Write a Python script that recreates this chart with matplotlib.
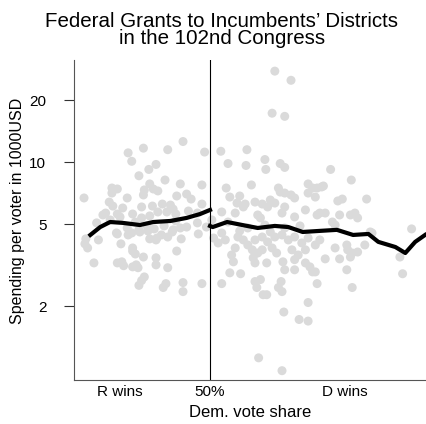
import matplotlib
matplotlib.use("Agg")
import matplotlib.pyplot as plt
import numpy as np

plt.rcParams['font.family'] = ['Liberation Sans', 'DejaVu Sans']

# Democratic vote share (%) and federal spending per voter (1000 USD)
r_share = [47.0, 42.6, 40.9, 45.3, 49.4, 41.3, 44.0, 43.2, 42.1, 45.0,
           46.7, 49.1, 43.3, 42.7, 43.7, 44.2, 39.1, 39.7, 39.1, 36.0,
           40.8, 42.6, 46.3, 47.4, 47.9, 38.8, 39.2, 40.3, 42.4, 43.6,
           44.7, 45.6, 45.9, 49.1, 38.4, 38.1, 39.7, 41.4, 43.3, 44.2,
           45.2, 46.2, 47.6, 48.6, 42.4, 41.7, 37.4, 47.4, 48.6, 49.6,
           39.7, 40.9, 41.3, 42.2, 43.1, 43.3, 44.0, 44.6, 45.3, 45.9,
           46.8, 48.7, 36.2, 36.4, 36.1, 37.6, 40.1, 41.4, 41.7, 41.4,
           42.6, 46.3, 44.0, 37.1, 39.7, 40.2, 40.4, 41.8, 42.0, 41.4,
           44.0, 45.3, 42.7, 42.4, 42.1, 45.1, 44.8, 47.0, 47.0, 49.1,
           39.6, 40.8, 42.1, 43.0, 43.8, 44.9, 45.8, 46.7, 44.1, 38.9,
           40.0, 46.2]
r_spend = [12.6, 11.7, 11.1, 11.5, 11.2, 10.1, 9.75, 9.22, 8.59, 8.19,
           7.84, 7.75, 7.84, 7.33, 7.41, 7.25, 7.49, 7.41, 7.08, 6.70,
           6.70, 6.93, 6.85, 7.00, 6.62, 6.40, 6.12, 5.99, 6.06, 6.12,
           6.26, 6.19, 5.92, 6.26, 5.66, 5.54, 5.60, 5.60, 5.48, 5.73,
           5.73, 5.60, 5.79, 5.66, 5.36, 5.12, 5.07, 4.84, 5.07, 4.84,
           4.48, 4.43, 4.53, 4.58, 4.63, 4.24, 4.19, 4.43, 4.33, 4.69,
           4.24, 4.48, 4.24, 3.83, 4.01, 4.19, 4.01, 3.83, 3.58, 3.70,
           3.46, 3.70, 3.43, 3.24, 3.24, 3.28, 3.14, 3.17, 3.07, 3.10,
           3.17, 3.07, 2.77, 2.66, 2.52, 2.57, 2.46, 2.60, 2.35, 2.57,
           4.53, 4.79, 4.69, 4.90, 4.74, 4.90, 4.58, 4.79, 4.28, 5.24,
           5.42, 5.18]

d_share = [57.2, 59.0, 56.9, 58.3, 51.2, 54.1, 52.0, 54.0, 56.1, 56.2,
           57.8, 58.3, 63.4, 65.7, 51.8, 54.6, 57.6, 57.8, 58.3, 59.0,
           59.4, 60.9, 61.4, 60.9, 62.4, 61.7, 52.2, 53.3, 53.0, 53.9,
           55.0, 55.8, 56.7, 58.3, 67.4, 64.2, 64.7, 61.9, 62.6, 53.7,
           57.2, 50.2, 52.8, 55.3, 56.4, 58.0, 59.4, 60.6, 61.9, 62.2,
           62.8, 65.6, 66.1, 66.4, 63.6, 63.9, 72.4, 67.8, 51.3, 51.7,
           50.9, 53.1, 53.7, 54.2, 55.0, 55.8, 56.4, 57.2, 58.0, 58.7,
           59.4, 60.2, 60.9, 52.8, 54.7, 55.3, 56.9, 57.4, 59.1, 59.8,
           60.6, 52.6, 54.8, 55.0, 56.3, 58.1, 58.3, 59.4, 59.4, 60.6,
           61.1, 61.4, 52.2, 53.4, 55.0, 55.6, 57.9, 51.3, 55.2, 55.9,
           56.3, 57.6, 58.0, 61.9, 60.9, 58.2, 59.9, 60.9, 55.4, 58.0,
           61.7, 63.9, 65.2, 65.3, 65.8, 65.6, 66.4, 67.2, 62.8, 64.4,
           71.1, 61.7, 65.2, 71.4, 65.8, 68.0, 52.0, 54.2, 56.1, 58.3,
           60.0, 53.3, 56.7, 64.4, 52.4, 55.8, 51.3, 55.6, 62.2, 50.4]
d_spend = [27.7, 25.0, 17.3, 16.7, 11.3, 11.5, 9.85, 9.64, 10.3, 9.22,
           9.85, 9.43, 9.22, 8.19, 7.49, 7.75, 7.49, 7.16, 7.08, 6.93,
           6.70, 7.84, 7.49, 7.08, 7.58, 6.77, 6.77, 6.85, 6.33, 6.26,
           6.40, 6.26, 6.55, 6.06, 6.62, 6.48, 6.62, 7.49, 7.66, 6.06,
           6.33, 5.24, 5.66, 5.54, 6.06, 5.66, 5.42, 5.86, 5.54, 5.66,
           5.66, 5.54, 5.66, 5.36, 5.12, 4.95, 4.74, 4.58, 4.53, 4.19,
           4.05, 4.33, 4.19, 3.96, 4.19, 4.33, 4.10, 4.33, 4.43, 4.19,
           4.33, 4.05, 4.28, 3.83, 3.75, 3.62, 3.83, 3.62, 3.75, 3.54,
           3.75, 3.28, 3.43, 3.24, 3.24, 3.28, 3.00, 3.36, 3.00, 3.24,
           3.10, 2.93, 2.90, 2.87, 2.63, 2.69, 2.63, 2.57, 2.46, 2.27,
           2.27, 2.46, 2.35, 2.57, 2.08, 1.87, 1.72, 1.69, 1.12, 0.97,
           3.96, 3.83, 3.96, 3.75, 3.62, 3.46, 3.66, 3.96, 3.39, 3.39,
           3.46, 2.93, 3.00, 2.87, 2.46, 4.53, 5.12, 4.79, 4.95, 4.79,
           4.90, 4.63, 4.58, 5.54, 3.54, 3.75, 5.73, 5.36, 4.19, 4.28]

# smoothed trend on each side of the 50% cutoff
r_fit_x = [36.7, 37.8, 38.9, 40.3, 42.2, 43.7, 45.6, 47.4, 48.9, 50.0]
r_fit_y = [4.43, 4.84, 5.12, 5.07, 4.95, 5.12, 5.18, 5.36, 5.60, 5.86]
d_fit_x = [50.0, 50.3, 51.9, 53.6, 55.3, 57.2, 58.7, 60.3, 62.0, 64.1,
           65.9, 67.6, 68.7, 70.6, 71.7, 72.8, 73.9]
d_fit_y = [4.90, 4.84, 5.12, 4.95, 4.79, 4.90, 4.84, 4.58, 4.63, 4.69,
           4.43, 4.48, 4.10, 3.87, 3.62, 4.10, 4.43]

x_ticks = [40, 50, 65]
x_labels = ['R wins', '50%', 'D wins']
y_ticks = [2, 5, 10, 20]

fig = plt.figure(figsize=(4.26, 4.24), dpi=100)
ax = fig.add_axes([0.174, 0.104, 0.826, 0.754])

ax.scatter(r_share + d_share, r_spend + d_spend, s=42, color='#dadada',
           edgecolors='none', zorder=1)
ax.axvline(50, color='black', lw=0.8, zorder=2)
ax.plot(r_fit_x, r_fit_y, color='black', lw=3, zorder=3)
ax.plot(d_fit_x, d_fit_y, color='black', lw=3, zorder=3)

ax.set_yscale('log')
ax.set_xlim(34.9, 74.0)
ax.set_ylim(0.875, 31.3)
ax.set_yticks(y_ticks)
ax.set_yticklabels([str(t) for t in y_ticks], rotation=0)
ax.yaxis.set_minor_locator(matplotlib.ticker.NullLocator())
ax.set_xticks(x_ticks)
ax.set_xticklabels(x_labels)
ax.tick_params(axis='y', labelsize=11, length=7, width=0.8, pad=13,
               colors='#333333', labelcolor='black')
ax.tick_params(axis='x', labelsize=11, length=0, pad=4, labelcolor='black')

for side in ['top', 'right']:
    ax.spines[side].set_visible(False)
for side in ['left', 'bottom']:
    ax.spines[side].set_color('#555555')
    ax.spines[side].set_linewidth(0.8)

ax.set_xlabel('Dem. vote share', fontsize=12, labelpad=4)
ax.set_ylabel('Spending per voter in 1000USD', fontsize=11.5)
ax.yaxis.set_label_coords(-0.14, 0.53)

fig.text(0.521, 1 - 12 / 424,
         "Federal Grants to Incumbents\u2019 Districts\nin the 102nd Congress",
         ha='center', va='top', fontsize=14.8, linespacing=0.9)

fig.savefig('out.png', dpi=100)
